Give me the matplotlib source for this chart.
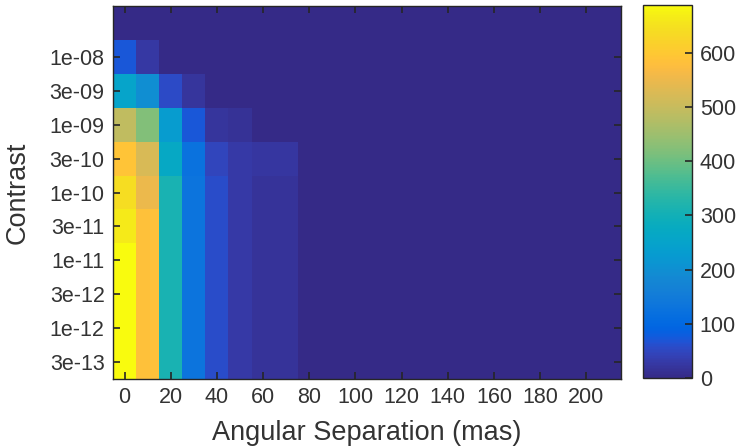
import numpy as np
import matplotlib
matplotlib.use("Agg")
import matplotlib.pyplot as plt
from matplotlib.colors import LinearSegmentedColormap

# ---- data ----
separation_mas = [0, 10, 20, 30, 40, 50, 60, 70, 80, 90, 100, 110, 120, 130, 140,
                  150, 160, 170, 180, 190, 200, 210]
contrast_labels = ["", "1e-08", "3e-09", "1e-09", "3e-10", "1e-10", "3e-11",
                   "1e-11", "3e-12", "1e-12", "3e-13"]
row_top  = [0, 0, 0, 0, 0, 0, 0, 0, 0, 0, 0, 0, 0, 0, 0, 0, 0, 0, 0, 0, 0, 0]
row_1e08 = [72, 25, 0, 0, 0, 0, 0, 0, 0, 0, 0, 0, 0, 0, 0, 0, 0, 0, 0, 0, 0, 0]
row_3e09 = [251, 197, 55, 20, 0, 0, 0, 0, 0, 0, 0, 0, 0, 0, 0, 0, 0, 0, 0, 0, 0, 0]
row_1e09 = [490, 420, 230, 71, 20, 15, 0, 0, 0, 0, 0, 0, 0, 0, 0, 0, 0, 0, 0, 0, 0, 0]
row_3e10 = [590, 523, 267, 125, 47, 28, 22, 22, 0, 0, 0, 0, 0, 0, 0, 0, 0, 0, 0, 0, 0, 0]
row_1e10 = [640, 550, 311, 130, 57, 28, 18, 18, 0, 0, 0, 0, 0, 0, 0, 0, 0, 0, 0, 0, 0, 0]
row_3e11 = [662, 585, 311, 130, 57, 28, 18, 18, 0, 0, 0, 0, 0, 0, 0, 0, 0, 0, 0, 0, 0, 0]
row_1e11 = [688, 585, 311, 130, 57, 28, 18, 18, 0, 0, 0, 0, 0, 0, 0, 0, 0, 0, 0, 0, 0, 0]
row_3e12 = [688, 585, 311, 130, 57, 28, 18, 18, 0, 0, 0, 0, 0, 0, 0, 0, 0, 0, 0, 0, 0, 0]
row_1e12 = [688, 585, 311, 130, 57, 28, 18, 18, 0, 0, 0, 0, 0, 0, 0, 0, 0, 0, 0, 0, 0, 0]
row_3e13 = [688, 585, 311, 130, 57, 28, 18, 18, 0, 0, 0, 0, 0, 0, 0, 0, 0, 0, 0, 0, 0, 0]
x_ticks = [0, 20, 40, 60, 80, 100, 120, 140, 160, 180, 200]
cbar_ticks = [0, 100, 200, 300, 400, 500, 600]
value_max = 688

# ---- parula colormap ----
parula_data = [
    [0.2081, 0.1663, 0.5292], [0.2116, 0.1898, 0.5777], [0.2123, 0.2138, 0.6270],
    [0.2081, 0.2386, 0.6771], [0.1959, 0.2645, 0.7279], [0.1707, 0.2919, 0.7792],
    [0.1253, 0.3242, 0.8303], [0.0591, 0.3598, 0.8683], [0.0117, 0.3875, 0.8820],
    [0.0060, 0.4086, 0.8828], [0.0165, 0.4266, 0.8786], [0.0329, 0.4430, 0.8720],
    [0.0498, 0.4586, 0.8641], [0.0629, 0.4737, 0.8554], [0.0723, 0.4887, 0.8467],
    [0.0779, 0.5040, 0.8384], [0.0793, 0.5200, 0.8312], [0.0749, 0.5375, 0.8263],
    [0.0641, 0.5570, 0.8240], [0.0488, 0.5772, 0.8228], [0.0343, 0.5966, 0.8199],
    [0.0265, 0.6137, 0.8135], [0.0239, 0.6287, 0.8038], [0.0231, 0.6418, 0.7913],
    [0.0228, 0.6535, 0.7768], [0.0267, 0.6642, 0.7607], [0.0384, 0.6743, 0.7436],
    [0.0590, 0.6838, 0.7254], [0.0843, 0.6928, 0.7062], [0.1133, 0.7015, 0.6859],
    [0.1453, 0.7098, 0.6646], [0.1801, 0.7177, 0.6424], [0.2178, 0.7250, 0.6193],
    [0.2586, 0.7317, 0.5954], [0.3022, 0.7376, 0.5712], [0.3482, 0.7424, 0.5473],
    [0.3953, 0.7459, 0.5244], [0.4420, 0.7481, 0.5033], [0.4871, 0.7491, 0.4840],
    [0.5300, 0.7491, 0.4661], [0.5709, 0.7485, 0.4494], [0.6099, 0.7473, 0.4337],
    [0.6473, 0.7456, 0.4188], [0.6834, 0.7435, 0.4044], [0.7184, 0.7411, 0.3905],
    [0.7525, 0.7384, 0.3768], [0.7858, 0.7356, 0.3633], [0.8185, 0.7327, 0.3498],
    [0.8507, 0.7299, 0.3360], [0.8824, 0.7274, 0.3217], [0.9139, 0.7258, 0.3063],
    [0.9450, 0.7261, 0.2886], [0.9739, 0.7314, 0.2666], [0.9938, 0.7455, 0.2403],
    [0.9990, 0.7653, 0.2164], [0.9955, 0.7861, 0.1967], [0.9880, 0.8066, 0.1794],
    [0.9789, 0.8271, 0.1633], [0.9697, 0.8481, 0.1475], [0.9626, 0.8705, 0.1309],
    [0.9589, 0.8949, 0.1132], [0.9598, 0.9218, 0.0948], [0.9661, 0.9514, 0.0755],
    [0.9763, 0.9831, 0.0538]]
parula = LinearSegmentedColormap.from_list("parula", parula_data, N=256)

data = np.array([row_top, row_1e08, row_3e09, row_1e09, row_3e10, row_1e10,
                 row_3e11, row_1e11, row_3e12, row_1e12, row_3e13], dtype=float)

plt.rcParams['font.family'] = ['Liberation Sans', 'DejaVu Sans']
text_color = '#333333'
edge_color = '#262626'

fig = plt.figure(figsize=(7.38, 4.48), dpi=100)
ax = fig.add_axes([0.1531, 0.155, 0.6884, 0.8305])
cax = fig.add_axes([0.8706, 0.1563, 0.0664, 0.8326])

xs = np.array(separation_mas, dtype=float)
x_edges = np.concatenate([xs - 5, [xs[-1] + 5]])
y_edges = np.arange(len(contrast_labels) + 1) - 0.5
mesh = ax.pcolormesh(x_edges, y_edges, data, cmap=parula, vmin=0, vmax=value_max,
                     shading='flat', edgecolors='none', antialiased=False)
ax.set_xlim(x_edges[0], x_edges[-1])
ax.set_ylim(y_edges[-1], y_edges[0])

ax.set_xticks(x_ticks)
ax.set_xticklabels([str(t) for t in x_ticks])
ax.set_yticks(np.arange(1, len(contrast_labels)))
ax.set_yticklabels(contrast_labels[1:])
ax.tick_params(direction='in', length=5, width=1.2, top=True, right=True,
               labelsize=15.5, colors=edge_color, labelcolor=text_color, pad=6)
for sp in ax.spines.values():
    sp.set_color(edge_color)
    sp.set_linewidth(1.0)
ax.set_xlabel("Angular Separation (mas)", fontsize=19.5, color=text_color, labelpad=9)
ax.set_ylabel("Contrast", fontsize=19.5, color=text_color, labelpad=14)

cb = fig.colorbar(mesh, cax=cax, ticks=cbar_ticks)
cb.outline.set_edgecolor(edge_color)
cb.outline.set_linewidth(1.0)
cax.tick_params(direction='in', length=5, width=1.2, labelsize=15.5,
                colors=edge_color, labelcolor=text_color, pad=6)
cax.set_ylim(0, value_max)

fig.savefig("out.png", dpi=100)
